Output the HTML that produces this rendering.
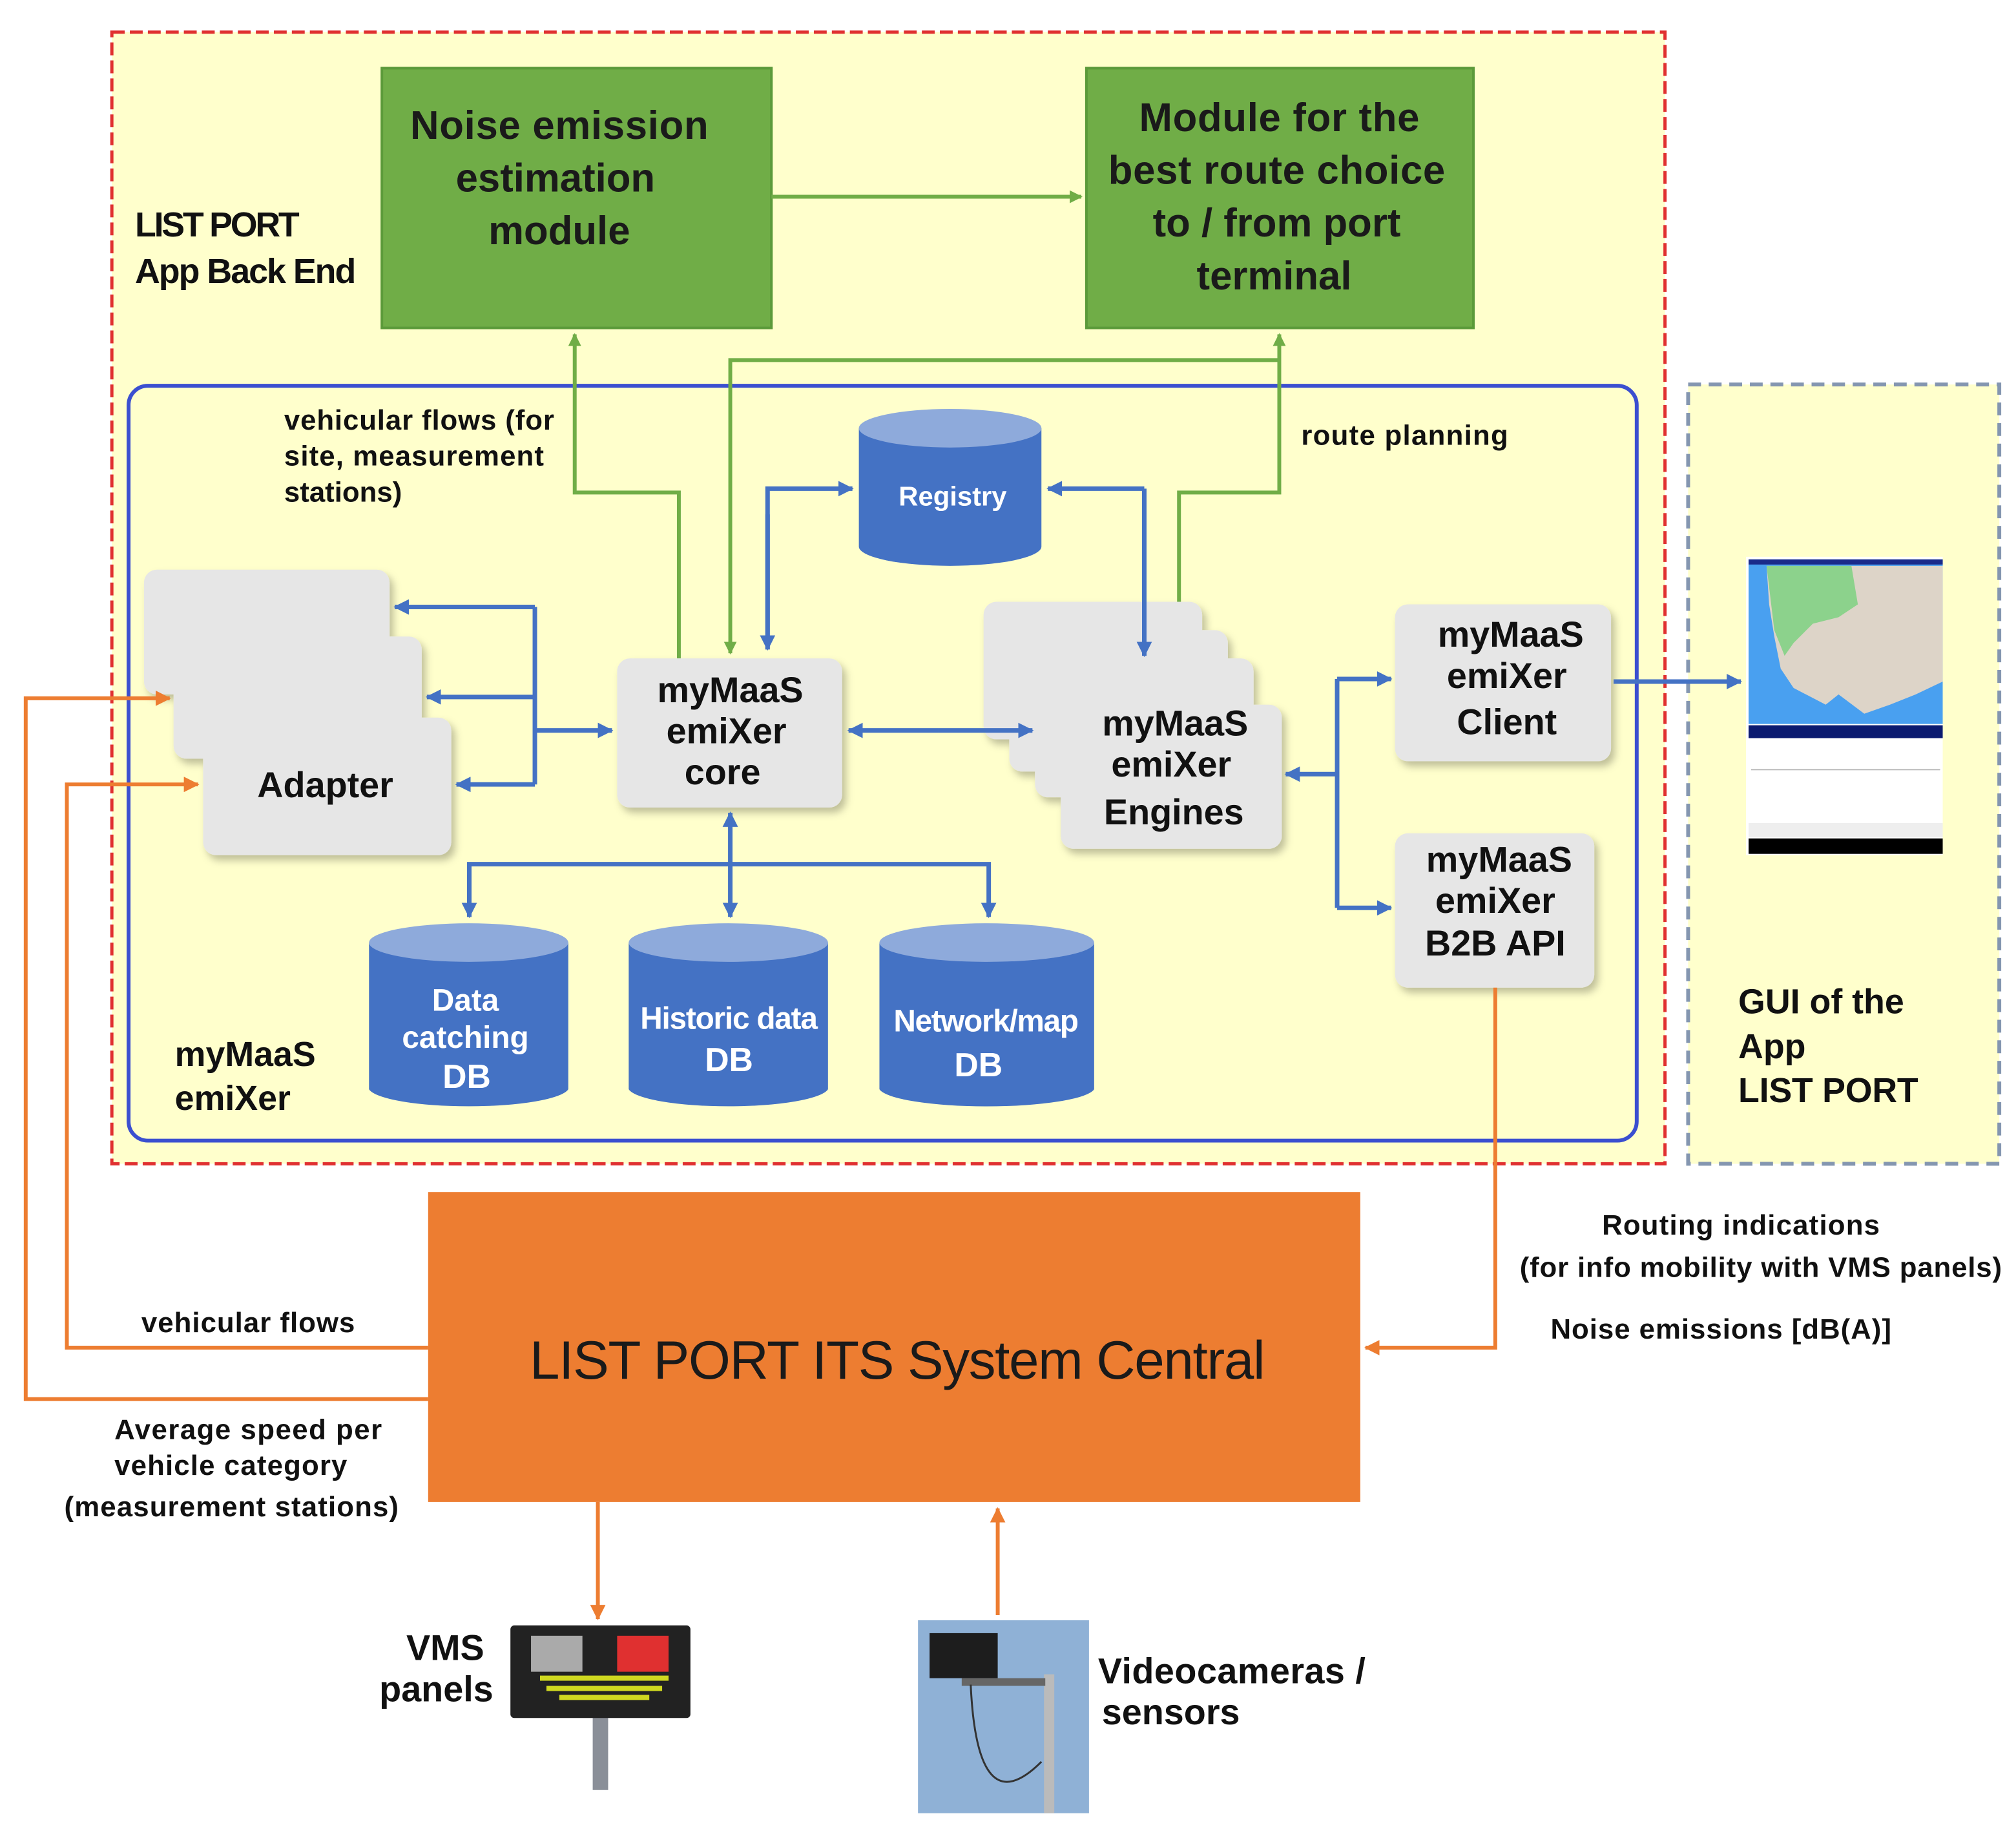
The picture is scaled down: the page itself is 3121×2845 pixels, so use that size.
<!DOCTYPE html>
<html><head><meta charset="utf-8"><style>
html,body{margin:0;padding:0;background:#fff;}
svg{display:block;}
text{font-family:"Liberation Sans",Arial,sans-serif;}
</style></head><body>
<svg width="3121" height="2845" viewBox="0 0 1568 1429.3" preserveAspectRatio="none" xmlns="http://www.w3.org/2000/svg">
<defs>
<marker id="ag" markerWidth="10" markerHeight="10" refX="9" refY="5" orient="auto" markerUnits="userSpaceOnUse"><path d="M0,0 L10,5 L0,10 z" fill="#70ad47"/></marker>
<marker id="ab" markerWidth="12" markerHeight="12" refX="11" refY="6" orient="auto" markerUnits="userSpaceOnUse"><path d="M0,0 L12,6 L0,12 z" fill="#4472c4"/></marker>
<marker id="ao" markerWidth="12" markerHeight="12" refX="11" refY="6" orient="auto" markerUnits="userSpaceOnUse"><path d="M0,0 L12,6 L0,12 z" fill="#ed7d31"/></marker>
<filter id="sh" x="-10%" y="-10%" width="130%" height="130%"><feDropShadow dx="3" dy="4" stdDeviation="3" flood-color="#000" flood-opacity="0.25"/></filter>
</defs>
<rect width="1568" height="1430" fill="#fff"/>
<rect x="87" y="25" width="1208" height="880" fill="#ffffcc" stroke="#e03030" stroke-width="2.5" stroke-dasharray="10,4"/>
<rect x="1313" y="299" width="242" height="606" fill="#ffffcc" stroke="#8496b0" stroke-width="3" stroke-dasharray="10,6"/>
<rect x="100" y="300" width="1173" height="587" rx="15" fill="none" stroke="#3b4fd0" stroke-width="3"/>
<rect x="297" y="53" width="303" height="202" fill="#70ad47" stroke="#5b9a3a" stroke-width="2"/>
<rect x="845" y="53" width="301" height="202" fill="#70ad47" stroke="#5b9a3a" stroke-width="2"/>
<g font-weight="bold" font-size="31" text-anchor="middle" fill="#1a1a1a">
<text x="435" y="108" textLength="232">Noise emission</text><text x="432" y="149">estimation</text><text x="435" y="190">module</text>
<text x="995" y="102" textLength="218">Module for the</text><text x="993" y="143" textLength="262">best route choice</text><text x="993" y="184">to / from port</text><text x="991" y="225">terminal</text>
</g>
<g font-weight="bold" font-size="27" fill="#111">
<text x="105" y="184" textLength="128">LIST PORT</text><text x="105" y="220" textLength="172">App Back End</text>
<text x="136" y="829">myMaaS</text><text x="136" y="863">emiXer</text>
<text x="1352" y="788">GUI of the</text><text x="1352" y="823">App</text><text x="1352" y="857" textLength="140">LIST PORT</text>
</g>
<g font-weight="bold" font-size="22" fill="#111">
<text x="221" y="334" textLength="210">vehicular flows (for</text><text x="221" y="362" textLength="202">site, measurement</text><text x="221" y="390">stations)</text>
<text x="1012" y="346" textLength="161">route planning</text>
<text x="1246" y="960" textLength="216">Routing indications</text>
<text x="1182" y="993" textLength="375">(for info mobility with VMS panels)</text>
<text x="1206" y="1041" textLength="265">Noise emissions [dB(A)]</text>
<text x="110" y="1036" textLength="166">vehicular flows</text>
<text x="89" y="1119" textLength="208">Average speed per</text><text x="89" y="1147" textLength="181">vehicle category</text>
<text x="50" y="1179" textLength="260">(measurement stations)</text>
</g>
<g fill="none" stroke="#70ad47" stroke-width="3">
<path d="M600,153 H841" marker-end="url(#ag)"/>
<path d="M528,512 V383 H447 V260" marker-end="url(#ag)"/>
<path d="M995,280 H568 V508" marker-end="url(#ag)"/>
<path d="M917,512 V383 H995 V260" marker-end="url(#ag)"/>
</g>
<g fill="#e6e6e6" filter="url(#sh)">
<rect x="112" y="443" width="191" height="97" rx="10"/>
<rect x="135" y="495" width="193" height="95" rx="10"/>
<rect x="158" y="558" width="193" height="107" rx="10"/>
<rect x="480" y="512" width="175" height="116" rx="10"/>
<rect x="765" y="468" width="170" height="107" rx="10"/>
<rect x="785" y="490" width="170" height="110" rx="10"/>
<rect x="805" y="512" width="170" height="108" rx="10"/>
<rect x="825" y="548" width="172" height="112" rx="10"/>
<rect x="1085" y="470" width="168" height="122" rx="10"/>
<rect x="1085" y="648" width="155" height="120" rx="10"/>
</g>
<g font-weight="bold" font-size="28" text-anchor="middle" fill="#111">
<text x="253" y="620">Adapter</text>
<text x="568" y="546">myMaaS</text><text x="565" y="578">emiXer</text><text x="562" y="610">core</text>
<text x="914" y="572">myMaaS</text><text x="911" y="604">emiXer</text><text x="913" y="641">Engines</text>
<text x="1175" y="503">myMaaS</text><text x="1172" y="535">emiXer</text><text x="1172" y="571">Client</text>
<text x="1166" y="678">myMaaS</text><text x="1163" y="710">emiXer</text><text x="1163" y="743">B2B API</text>
</g>
<g>
<path d="M668,333 V425 A71,15 0 0 0 810,425 V333 Z" fill="#4472c4"/>
<ellipse cx="739" cy="333" rx="71" ry="15" fill="#8eaadb"/>
<path d="M287,733 V847 A78,15 0 0 0 442,847 V733 Z" fill="#4472c4"/>
<ellipse cx="364.5" cy="733" rx="77.5" ry="15" fill="#8eaadb"/>
<path d="M489,733 V847 A78,15 0 0 0 644,847 V733 Z" fill="#4472c4"/>
<ellipse cx="566.5" cy="733" rx="77.5" ry="15" fill="#8eaadb"/>
<path d="M684,733 V847 A84,15 0 0 0 851,847 V733 Z" fill="#4472c4"/>
<ellipse cx="767.5" cy="733" rx="83.5" ry="15" fill="#8eaadb"/>
</g>
<g font-weight="bold" fill="#fff" text-anchor="middle">
<text x="741" y="393" font-size="21">Registry</text>
<text x="362" y="786" font-size="24">Data</text><text x="362" y="815" font-size="24">catching</text><text x="363" y="846" font-size="26">DB</text>
<text x="567" y="800" font-size="24" textLength="138">Historic data</text><text x="567" y="833" font-size="26">DB</text>
<text x="767" y="802" font-size="24" textLength="144">Network/map</text><text x="761" y="837" font-size="26">DB</text>
</g>
<g fill="none" stroke="#4472c4" stroke-width="3.5">
<path d="M597,505 V380 H663" marker-end="url(#ab)"/>
<path d="M597,400 V505" marker-end="url(#ab)"/>
<path d="M890,380 H815" marker-end="url(#ab)"/>
<path d="M890,380 V510" marker-end="url(#ab)"/>
<path d="M416,472 H307" marker-end="url(#ab)"/>
<path d="M416,542 H332" marker-end="url(#ab)"/>
<path d="M416,610 H355" marker-end="url(#ab)"/>
<path d="M416,472 V610"/>
<path d="M416,568 H476" marker-end="url(#ab)"/>
<path d="M730,568 H803" marker-end="url(#ab)"/>
<path d="M730,568 H660" marker-end="url(#ab)"/>
<path d="M568,672 V632" marker-end="url(#ab)"/>
<path d="M568,672 V713" marker-end="url(#ab)"/>
<path d="M365,713 V672 H769 V713" marker-end="url(#ab)"/>
<path d="M365,680 V713" marker-end="url(#ab)"/>
<path d="M1040,602 H1000" marker-end="url(#ab)"/>
<path d="M1040,528 V706"/>
<path d="M1040,528 H1082" marker-end="url(#ab)"/>
<path d="M1040,706 H1082" marker-end="url(#ab)"/>
<path d="M1255,530 H1354" marker-end="url(#ab)"/>
</g>
<g>
<rect x="1358" y="433" width="153" height="232" fill="#fff"/>
<rect x="1360" y="435" width="151" height="128" fill="#49a0f0"/>
<rect x="1360" y="435" width="151" height="4" fill="#1a2a8a"/>
<path d="M1374,440 H1511 V530 L1490,540 L1470,548 L1450,555 L1430,540 L1420,548 L1395,535 L1385,520 L1380,495 L1376,470 Z" fill="#ddd4c8"/>
<path d="M1374,440 H1440 L1445,470 L1430,480 L1410,485 L1395,500 L1388,510 L1380,490 Z" fill="#8cd28c"/>
<rect x="1360" y="564" width="151" height="10" fill="#0b1a70"/>
<rect x="1360" y="652" width="151" height="12" fill="#000"/>
<rect x="1360" y="640" width="151" height="11" fill="#eee"/>
<rect x="1362" y="598" width="147" height="1" fill="#bbb"/>
</g>
<rect x="333" y="927" width="725" height="241" fill="#ed7d31"/>
<text x="698" y="1072" font-size="42" text-anchor="middle" fill="#1a1a1a" textLength="572">LIST PORT ITS System Central</text>
<g fill="none" stroke="#ed7d31" stroke-width="3">
<path d="M1163,768 V1048 H1062" marker-end="url(#ao)"/>
<path d="M333,1048 H52 V610 H154" marker-end="url(#ao)"/>
<path d="M333,1088 H20 V543 H132" marker-end="url(#ao)"/>
<path d="M465,1168 V1259" marker-end="url(#ao)"/>
<path d="M776,1256 V1173" marker-end="url(#ao)"/>
</g>
<g>
<rect x="461" y="1330" width="12" height="62" fill="#8a8f98"/>
<rect x="397" y="1264" width="140" height="72" rx="3" fill="#222"/>
<rect x="413" y="1272" width="40" height="28" fill="#aaa"/>
<rect x="480" y="1272" width="40" height="28" fill="#e03030"/>
<rect x="420" y="1303" width="100" height="4" fill="#cfd820"/>
<rect x="425" y="1311" width="90" height="4" fill="#cfd820"/>
<rect x="435" y="1318" width="70" height="4" fill="#cfd820"/>
</g>
<g font-weight="bold" font-size="28" fill="#111">
<text x="316" y="1291">VMS</text><text x="295" y="1323">panels</text>
<text x="854" y="1309" textLength="208">Videocameras /</text><text x="857" y="1341">sensors</text>
</g>
<g>
<rect x="714" y="1260" width="133" height="150" fill="#8fb1d6"/>
<rect x="723" y="1270" width="53" height="35" fill="#1d1d1d"/>
<rect x="812" y="1302" width="8" height="108" fill="#bbb"/>
<rect x="748" y="1305" width="65" height="6" fill="#666"/>
<path d="M755,1310 Q760,1420 810,1370" fill="none" stroke="#333" stroke-width="1.5"/>
</g>
</svg>
</body></html>
